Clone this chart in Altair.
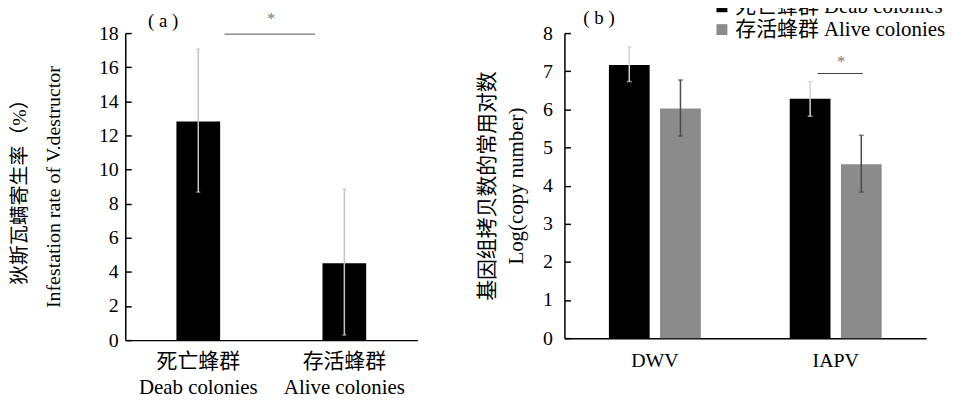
import altair as alt
import pandas as pd

FONT = "Liberation Serif, Noto Sans CJK SC"

# ---- panel (a) data ----
cats_a = ["死亡蜂群|Deab colonies", "存活蜂群|Alive colonies"]
rate_mean = [12.82, 4.5]
rate_lo = [8.68, 0.3]
rate_hi = [17.06, 8.85]
ticks_a = [0, 2, 4, 6, 8, 10, 12, 14, 16, 18]
sig_a_y = [17.94]
star_a_y = [18.8]
label_a_y = [18.7]

# ---- panel (b) data ----
viruses = ["DWV", "IAPV"]
series = ["死亡蜂群 Deab colonies", "存活蜂群 Alive colonies"]
dead_mean = [7.16, 6.28]
dead_lo = [6.73, 5.82]
dead_hi = [7.64, 6.73]
alive_mean = [6.02, 4.56]
alive_lo = [5.30, 3.83]
alive_hi = [6.77, 5.32]
ticks_b = [0, 1, 2, 3, 4, 5, 6, 7, 8]
sig_b_y = [6.94]
star_b_y = [7.25]
label_b_y = [8.4]

df_a = pd.DataFrame({"cat": cats_a, "mean": rate_mean, "lo": rate_lo, "hi": rate_hi})
df_sig_a = pd.DataFrame({"cat": [cats_a[0]], "cat2": [cats_a[1]], "y": sig_a_y, "star": star_a_y})
df_lab_a = pd.DataFrame({"cat": [cats_a[0]], "y": label_a_y, "text": ["( a )"]})

rows = []
for i, v in enumerate(viruses):
    rows.append({"virus": v, "series": series[0], "mean": dead_mean[i],
                 "lo": dead_lo[i], "hi": dead_hi[i], "ecolor": "#d2d2d2"})
    rows.append({"virus": v, "series": series[1], "mean": alive_mean[i],
                 "lo": alive_lo[i], "hi": alive_hi[i], "ecolor": "#4a4a4a"})
df_b = pd.DataFrame(rows)
df_sig_b = pd.DataFrame({"virus": [viruses[1]], "y": sig_b_y, "star": star_b_y})
df_lab_b = pd.DataFrame({"virus": [viruses[0]], "y": label_b_y, "text": ["( b )"]})

W_A, H_A = 294, 309
W_B, H_B = 364, 307

# ---------- panel (a) ----------
axis_xa = alt.Axis(title=None, labelExpr="split(datum.label, '|')", ticks=False,
                   labelAngle=0, labelLineHeight=26, labelPadding=11, labelFontSize=21)
axis_ya = alt.Axis(values=ticks_a, title=["狄斯瓦螨寄生率（%）", "Infestation rate of V.destructor"],
                   titleLineHeight=34, titlePadding=35, ticks=False, labelPadding=7)
axis_ya_ticks = alt.Axis(values=ticks_a, title=None, orient="right", offset=-W_A, labels=False,
                         domain=False, tickSize=6)


def xa(band=0.5):
    return alt.X("cat:N", sort=cats_a, scale=alt.Scale(paddingInner=0, paddingOuter=0),
                 axis=axis_xa, bandPosition=band)


def ya(field, axis=None):
    return alt.Y(field, scale=alt.Scale(domain=[0, 18], nice=False), axis=axis)


base_a = alt.Chart(df_a)
bars_a = base_a.mark_bar(color="black", width=44).encode(x=xa(), y=ya("mean:Q", axis_ya))
err_a = base_a.mark_rule(color="#c4c4c4", strokeWidth=1.5).encode(
    x=xa(), y=ya("lo:Q", axis_ya_ticks), y2="hi:Q")
caps_a = base_a.transform_fold(["lo", "hi"]).mark_tick(color="#c4c4c4", size=4, thickness=1.5).encode(
    x=xa(), y=ya("value:Q"))
sig_a = alt.Chart(df_sig_a).mark_rule(color="#555555", strokeWidth=1).encode(
    x=xa(0.68), x2=alt.X2("cat2:N", bandPosition=0.30), y=ya("y:Q"))
star_a = alt.Chart(df_sig_a).mark_text(text="*", fontSize=16, color="#777777", font=FONT).encode(
    x=xa(1), y=ya("star:Q"))
lab_a = alt.Chart(df_lab_a).mark_text(fontSize=19, color="black", font=FONT, align="left").encode(
    x=xa(0.156), y=ya("y:Q"), text="text:N")

panel_a = alt.layer(bars_a, err_a, caps_a, sig_a, star_a, lab_a).resolve_axis(
    y="independent").properties(width=W_A, height=H_A)

# ---------- panel (b) ----------
axis_xb = alt.Axis(title=None, ticks=False, labelAngle=0, labelPadding=13)
axis_yb = alt.Axis(values=ticks_b, title=["基因组拷贝数的常用对数", "Log(copy number)"],
                   titleFontSize=21, titleLineHeight=29, titlePadding=16, ticks=False,
                   labelPadding=12)
axis_yb_ticks = alt.Axis(values=ticks_b, title=None, orient="right", offset=-W_B, labels=False,
                         domain=False, tickSize=6)


def xb(band=0.5):
    return alt.X("virus:N", sort=viruses, scale=alt.Scale(paddingInner=0, paddingOuter=0),
                 axis=axis_xb, bandPosition=band)


def yb(field, axis=None):
    return alt.Y(field, scale=alt.Scale(domain=[0, 8], nice=False), axis=axis)


xoff = alt.XOffset("series:N", sort=series, scale=alt.Scale(paddingInner=0, paddingOuter=0.767))

base_b = alt.Chart(df_b)
bars_b = base_b.mark_bar(width=41).encode(
    x=xb(), xOffset=xoff, y=yb("mean:Q", axis_yb),
    color=alt.Color("series:N", sort=series,
                    scale=alt.Scale(domain=series, range=["#000000", "#8b8b8b"]),
                    legend=alt.Legend(title=None, orient="none", legendX=590, legendY=-37,
                                      symbolType="square", symbolSize=121, symbolStrokeWidth=0,
                                      labelFont=FONT, labelFontSize=21, labelLimit=400,
                                      labelOffset=3, rowPadding=1, padding=0,
                                      labelColor="black")))
err_b = base_b.mark_rule(strokeWidth=1.5).encode(
    x=xb(), xOffset=xoff, y=yb("lo:Q", axis_yb_ticks), y2="hi:Q",
    stroke=alt.Stroke("ecolor:N", scale=None))
caps_b = base_b.transform_fold(["lo", "hi"]).mark_tick(size=5, thickness=1.5).encode(
    x=xb(), xOffset=xoff, y=yb("value:Q"), fill=alt.Fill("ecolor:N", scale=None))
sig_b = alt.Chart(df_sig_b).mark_rule(color="#444444", strokeWidth=1).encode(
    x=xb(0.40), x2=alt.X2("virus:N", bandPosition=0.65), y=yb("y:Q"))
star_b = alt.Chart(df_sig_b).mark_text(text="*", fontSize=16, color="#777777", font=FONT).encode(
    x=xb(0.53), y=yb("star:Q"))
lab_b = alt.Chart(df_lab_b).mark_text(fontSize=19, color="black", font=FONT, align="left").encode(
    x=xb(0.104), y=yb("y:Q"), text="text:N")

panel_b = alt.layer(bars_b, err_b, caps_b, sig_b, star_b, lab_b).resolve_axis(
    y="independent").properties(width=W_B, height=H_B)

chart = alt.hconcat(panel_a, panel_b, spacing=60).properties(
    padding={"left": 2, "top": -13, "right": 0, "bottom": 0}
).configure_view(stroke=None).configure_axis(
    grid=False, domainColor="black", domainWidth=1.5, tickColor="black", tickWidth=1.5,
    labelColor="black", titleColor="black", labelFont=FONT, titleFont=FONT,
    labelFontSize=20, titleFontSize=20, titleFontWeight="normal"
)

chart.save("out.html", embed_options={"renderer": "svg", "actions": False})
